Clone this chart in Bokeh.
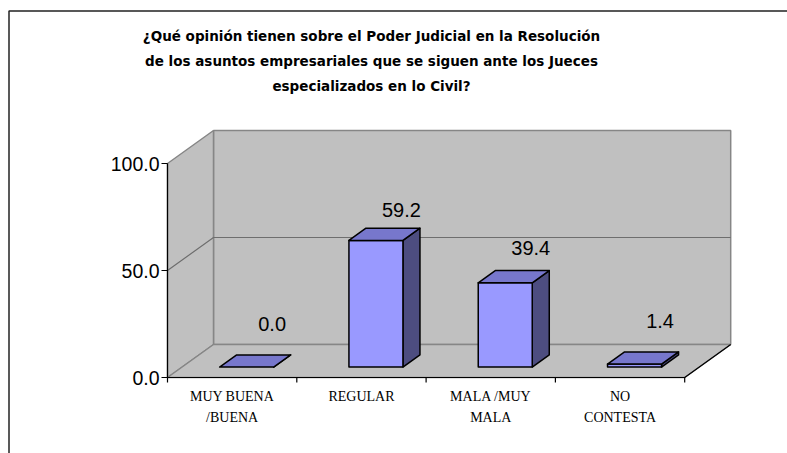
from bokeh.plotting import figure
from bokeh.models import Range1d, Label
from bokeh.core.properties import value
from bokeh.embed import file_html
from bokeh.resources import INLINE

# ---- data ----
categories = ["MUY BUENA\n/BUENA", "REGULAR", "MALA /MUY\nMALA", "NO\nCONTESTA"]
values = [0.0, 59.2, 39.4, 1.4]
y_ticks = [0, 50, 100]
y_tick_labels = ["0.0", "50.0", "100.0"]
title_lines = [
    "¿Qué opinión tienen sobre el Poder Judicial en la Resolución",
    "de los asuntos empresariales que se siguen ante los Jueces",
    "especializados en lo Civil?",
]

# ---- layout constants (pixels of the page) ----
OFF = 0                      # page offset of the canvas
W, H = 787, 453
PX0, PXS = 167.0, 129.3      # page x of category 0 and px per category
PY0, PYS = 377.0, 2.14       # page y of value 0 and px per unit
DXP, DYP = 46.0, 33.0        # 3D depth offset in px
DX, DY = DXP / PXS, DYP / PYS
YMAX = 100
N = len(categories)

x_start = (OFF - PX0) / PXS
x_end = (OFF + W - PX0) / PXS
y_start = (PY0 - (OFF + H)) / PYS
y_end = (PY0 - OFF) / PYS

p = figure(width=W, height=H, output_backend="svg", toolbar_location=None,
           x_range=Range1d(x_start, x_end), y_range=Range1d(y_start, y_end),
           x_axis_type=None, y_axis_type=None, min_border=0)
p.grid.visible = False
p.outline_line_color = None
p.background_fill_color = "white"
p.border_fill_color = "white"

def px2x(dpx):
    return dpx / PXS

def px2y(dpx):
    return dpx / PYS

# outer border (left and top visible)
bx = (8.5 - PX0) / PXS
by = (PY0 - 10.5) / PYS
p.line([bx, bx, x_end + 1], [y_start - 5, by, by], line_color="#222222", line_width=1.5)

wall_fill = "#c0c0c0"
wall_line = "#868686"

# back wall
p.patch([DX, N + DX, N + DX, DX], [DY, DY, YMAX + DY, YMAX + DY],
        fill_color=wall_fill, line_color=wall_line, line_width=1.5)
# left side wall
p.patch([0, DX, DX, 0], [0, DY, YMAX + DY, YMAX],
        fill_color=wall_fill, line_color=wall_line, line_width=1.5)
# floor
p.patch([0, N, N + DX, DX], [0, 0, DY, DY],
        fill_color=wall_fill, line_color=wall_line, line_width=1.5)

# gridlines (at 50)
for t in y_ticks[1:-1]:
    p.line([0, DX, N + DX], [t, t + DY, t + DY], line_color="#6e6e6e", line_width=1.2)

# axes
p.line([0, 0], [0, YMAX], line_color="black", line_width=1.2)
p.line([0, N, N + DX], [0, 0, DY], line_color="black", line_width=1.2)
# y ticks
p.segment(x0=[px2x(-6)] * len(y_ticks), y0=y_ticks, x1=[0] * len(y_ticks), y1=y_ticks,
          line_color="black", line_width=1.2)
p.text(x=[0] * len(y_ticks), y=y_ticks, text=y_tick_labels, x_offset=-8,
       text_align="right", text_baseline="middle",
       text_font=value("Liberation Sans"), text_font_size="19.5px", text_color="black")
# x ticks
xt = list(range(N + 1))
p.segment(x0=xt, y0=[0] * len(xt), x1=xt, y1=[px2y(-5)] * len(xt),
          line_color="black", line_width=1.2)

# category labels
centers = [i + 0.5 for i in range(N)]
line1 = [c.split("\n")[0] for c in categories]
line2 = [c.split("\n")[1] if "\n" in c else "" for c in categories]
p.text(x=centers, y=[0] * N, text=line1, y_offset=19, text_align="center",
       text_baseline="alphabetic", text_font=value("Liberation Serif"),
       text_font_size="14px", text_color="black")
p.text(x=centers, y=[0] * N, text=line2, y_offset=40, text_align="center",
       text_baseline="alphabetic", text_font=value("Liberation Serif"),
       text_font_size="14px", text_color="black")

# bars
hw = px2x(27)
d0, d1 = 0.315, 0.685
front_c, top_c, side_c = "#9999ff", "#7777cc", "#4d4d80"
for c, v in zip(centers, values):
    xl = c - hw + d0 * DX
    xr = c + hw + d0 * DX
    yb = d0 * DY
    yt = yb + v
    ddx = (d1 - d0) * DX
    ddy = (d1 - d0) * DY
    # side face
    p.patch([xr, xr + ddx, xr + ddx, xr], [yb, yb + ddy, yt + ddy, yt],
            fill_color=side_c, line_color="black", line_width=1.5, line_join="round")
    # front face
    if v > 0:
        p.patch([xl, xr, xr, xl], [yb, yb, yt, yt],
                fill_color=front_c, line_color="black", line_width=1.5, line_join="round")
    # top face
    p.patch([xl, xr, xr + ddx, xl + ddx], [yt, yt, yt + ddy, yt + ddy],
            fill_color=top_c, line_color="black", line_width=1.5, line_join="round")

# value labels
lab_x = [c + px2x(40) for c in centers]
lab_y = [d0 * DY + v + px2y(43 - 0.215 * v) for v in values]
p.text(x=lab_x, y=lab_y, text=[f"{v:.1f}" for v in values], text_align="center",
       text_baseline="alphabetic", text_font=value("Liberation Sans"),
       text_font_size="20px", text_color="black")

# title
for i, t in enumerate(title_lines):
    p.add_layout(Label(x=371 - OFF, y=H - (35 - OFF) - 25 * i, x_units="screen", y_units="screen",
                       text=t, text_align="center", text_baseline="middle",
                       text_font="DejaVu Sans", text_font_style="bold",
                       text_font_size="13.5px", text_color="black"))

open("out.html", "w").write(file_html(p, INLINE))
